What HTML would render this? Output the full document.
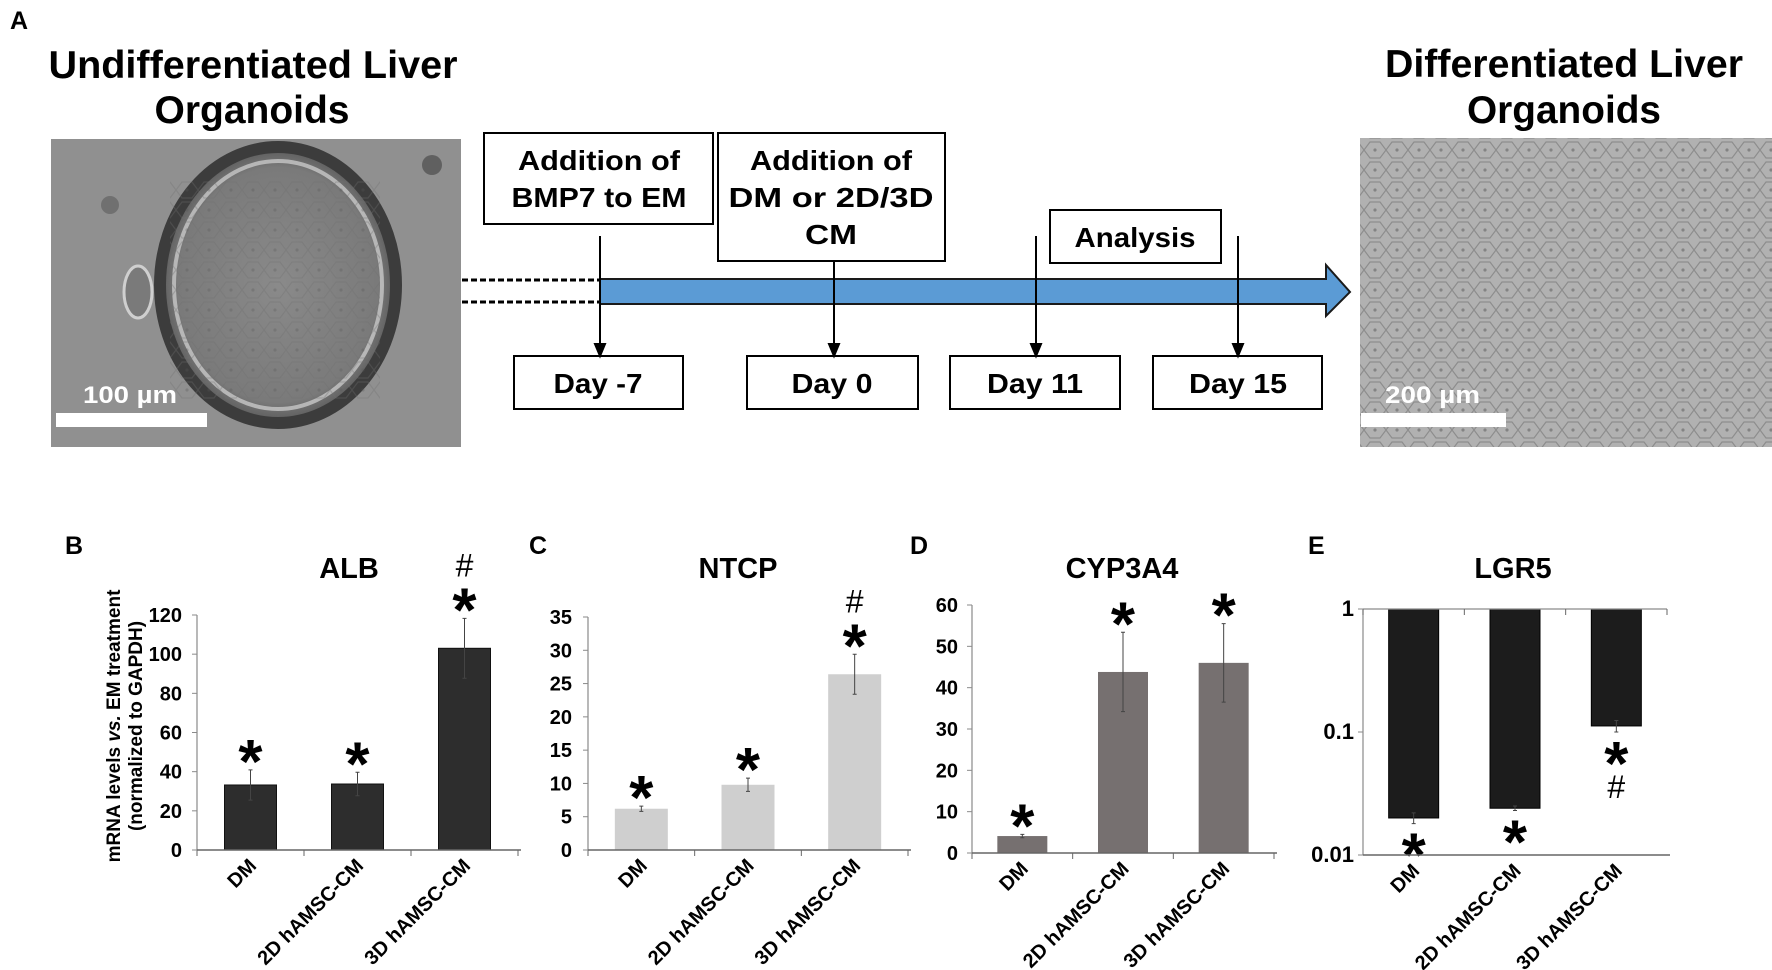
<!DOCTYPE html>
<html><head><meta charset="utf-8"><style>
html,body{margin:0;padding:0;background:#fff;}
svg{display:block;font-family:"Liberation Sans",Arial,sans-serif;}
</style></head><body>
<svg id="fig" width="1772" height="970" viewBox="0 0 1772 970" xmlns="http://www.w3.org/2000/svg">
<defs>
<pattern id="cells" width="22" height="20" patternUnits="userSpaceOnUse">
<path d="M0 10 L6 2 L16 2 L22 10 L16 18 L6 18 Z" fill="none" stroke="#6f6f6f" stroke-width="1.2" opacity="0.55"/>
<circle cx="11" cy="10" r="1.6" fill="#555" opacity="0.5"/>
</pattern>
<radialGradient id="org" cx="0.5" cy="0.5" r="0.5"><stop offset="0" stop-color="#8a8a8a"/><stop offset="0.85" stop-color="#7a7a7a"/><stop offset="1" stop-color="#5a5a5a"/></radialGradient>
</defs>
<g>
<text x="10" y="29" font-size="25" font-weight="bold">A</text>
<text x="253" y="78" font-size="39" font-weight="bold" text-anchor="middle" textLength="409" lengthAdjust="spacingAndGlyphs">Undifferentiated Liver</text>
<text x="252" y="123" font-size="39" font-weight="bold" text-anchor="middle" textLength="195" lengthAdjust="spacingAndGlyphs">Organoids</text>
<g>
<rect x="51" y="139" width="410" height="308" fill="#909090"/>
<circle cx="110" cy="205" r="9" fill="#707070"/><circle cx="432" cy="165" r="10" fill="#606060"/>
<ellipse cx="138" cy="292" rx="14" ry="26" fill="#7a7a7a" stroke="#cfcfcf" stroke-width="3"/>
<ellipse cx="278" cy="285" rx="118" ry="138" fill="url(#org)" stroke="#3c3c3c" stroke-width="12"/>
<ellipse cx="278" cy="285" rx="104" ry="124" fill="none" stroke="#c8c8c8" stroke-width="4" opacity="0.8"/>
<rect x="170" y="180" width="210" height="220" fill="url(#cells)" opacity="0.6"/>
<rect x="56" y="413" width="151" height="14" fill="#fff"/>
<text x="83" y="403" font-size="24" font-weight="bold" fill="#fff" textLength="94" lengthAdjust="spacingAndGlyphs">100 µm</text>
</g>
<g>
<rect x="1360" y="138" width="412" height="309" fill="#b1b1b1"/>
<rect x="1360" y="138" width="412" height="309" fill="url(#cells)"/>
<rect x="1361" y="413" width="145" height="14" fill="#fff"/>
<text x="1385" y="403" font-size="24" font-weight="bold" fill="#fff" textLength="95" lengthAdjust="spacingAndGlyphs">200 µm</text>
</g>
<text x="1564" y="77" font-size="39" font-weight="bold" text-anchor="middle" textLength="358" lengthAdjust="spacingAndGlyphs">Differentiated Liver</text>
<text x="1564" y="123" font-size="39" font-weight="bold" text-anchor="middle" textLength="194" lengthAdjust="spacingAndGlyphs">Organoids</text>
<g>
<line x1="462" y1="280" x2="600" y2="280" stroke="#000" stroke-width="3" stroke-dasharray="6,3"/>
<line x1="462" y1="302" x2="600" y2="302" stroke="#000" stroke-width="3" stroke-dasharray="6,3"/>
<path d="M600 279 L1326 279 L1326 265 L1350 292 L1326 316 L1326 304 L600 304 Z" fill="#5b9bd5" stroke="#1a1a1a" stroke-width="2"/>
</g>
<g fill="none" stroke="#000" stroke-width="2">
<rect x="484" y="133" width="229" height="91"/>
<rect x="718" y="133" width="227" height="128"/>
<rect x="1050" y="210" width="171" height="53"/>
<rect x="514" y="356" width="169" height="53"/>
<rect x="747" y="356" width="171" height="53"/>
<rect x="950" y="356" width="170" height="53"/>
<rect x="1153" y="356" width="169" height="53"/>
</g>
<g stroke="#000" stroke-width="2">
<line x1="600" y1="236" x2="600" y2="346"/><path d="M595 344 L605 344 L600 356 Z" fill="#000"/>
<line x1="834" y1="261" x2="834" y2="346"/><path d="M829 344 L839 344 L834 356 Z" fill="#000"/>
<line x1="1036" y1="236" x2="1036" y2="346"/><path d="M1031 344 L1041 344 L1036 356 Z" fill="#000"/>
<line x1="1238" y1="236" x2="1238" y2="346"/><path d="M1233 344 L1243 344 L1238 356 Z" fill="#000"/>
</g>
<g font-size="28" font-weight="bold" text-anchor="middle">
<text x="599" y="170" textLength="162" lengthAdjust="spacingAndGlyphs">Addition of</text>
<text x="599" y="207" textLength="175" lengthAdjust="spacingAndGlyphs">BMP7 to EM</text>
<text x="831" y="170" textLength="162" lengthAdjust="spacingAndGlyphs">Addition of</text>
<text x="831" y="207" textLength="205" lengthAdjust="spacingAndGlyphs">DM or 2D/3D</text>
<text x="831" y="244" textLength="52" lengthAdjust="spacingAndGlyphs">CM</text>
<text x="1135" y="247" textLength="121" lengthAdjust="spacingAndGlyphs">Analysis</text>
<text x="598" y="393" textLength="89" lengthAdjust="spacingAndGlyphs">Day -7</text>
<text x="832" y="393" textLength="81" lengthAdjust="spacingAndGlyphs">Day 0</text>
<text x="1035" y="393" textLength="96" lengthAdjust="spacingAndGlyphs">Day 11</text>
<text x="1238" y="393" textLength="98" lengthAdjust="spacingAndGlyphs">Day 15</text>
</g>
</g>
<g id="charts">
<text font-size="19" font-weight="bold" text-anchor="middle" transform="rotate(-90 120 726)"><tspan x="120" y="726">mRNA levels <tspan font-style="italic">vs.</tspan> EM treatment</tspan></text>
<text font-size="19" font-weight="bold" text-anchor="middle" transform="rotate(-90 142 726)"><tspan x="142" y="726">(normalized to GAPDH)</tspan></text>
</g>
</svg>
<script>
const categories = ["DM", "2D hAMSC-CM", "3D hAMSC-CM"];
const albValues = [33.2, 33.7, 103];
const albErrors = [7.7, 6, 15.3];
const albTicks = [0, 20, 40, 60, 80, 100, 120];
const ntcpValues = [6.2, 9.8, 26.4];
const ntcpErrors = [0.4, 1, 3];
const ntcpTicks = [0, 5, 10, 15, 20, 25, 30, 35];
const cypValues = [4.1, 43.8, 46];
const cypErrors = [0.4, 9.6, 9.5];
const cypTicks = [0, 10, 20, 30, 40, 50, 60];
const lgrValues = [0.020, 0.024, 0.112];
const lgrErrors = [0.002, 0.001, 0.012];
const lgrTicks = [1, 0.1, 0.01];
const albMarks = ["*", "*", "*#"];
const ntcpMarks = ["*", "*", "*#"];
const cypMarks = ["*", "*", "*"];
const lgrMarks = ["*", "*", "*#"];

const NS = "http://www.w3.org/2000/svg";
const root = document.getElementById("charts");
function mk(tag, attrs, parent, txt) {
  const e = document.createElementNS(NS, tag);
  for (const k in attrs) e.setAttribute(k, attrs[k]);
  if (txt !== undefined) e.textContent = txt;
  (parent || root).appendChild(e);
  return e;
}
function chart(cfg) {
  const g = mk("g", {});
  
  
  const log = cfg.log;
  const y = v => log ? cfg.yTop + (Math.log10(cfg.max) - Math.log10(v)) / (Math.log10(cfg.max) - Math.log10(cfg.min)) * (cfg.y0 - cfg.yTop)
                     : cfg.y0 - (v - cfg.min) / (cfg.max - cfg.min) * (cfg.y0 - cfg.yTop);
  const cw = (cfg.xEnd - cfg.x0) / categories.length;
  const cx = i => cfg.x0 + cw * (i + 0.5);
  const lbl = mk("text", {x: cfg.labelX, y: 554, "font-size": 25, "font-weight": "bold"}, g, cfg.letter);
  
  
  const t = mk("text", {x: cfg.titleX, y: 578, "font-size": 29, "font-weight": "bold", "text-anchor": "middle"}, g, cfg.title);
  
  
  cfg.values.forEach((v, i) => {
    const base = log ? y(cfg.max) : y(0);
    const top = y(v);
    const b = mk("rect", {x: cx(i) - cfg.bw / 2, y: Math.min(base, top), width: cfg.bw, height: Math.abs(base - top), fill: cfg.color, stroke: cfg.stroke || "none", "stroke-width": 1}, g);
    
    
    const e = cfg.errors[i];
    const ya = y(v + e), yb = y(Math.max(v - e, log ? 1e-6 : 0));
    const eb = mk("path", {d: `M${cx(i)} ${ya} V${yb} M${cx(i)-2} ${ya} H${cx(i)+2} M${cx(i)-2} ${yb} H${cx(i)+2}`, stroke: "#444", "stroke-width": 1, fill: "none"}, g);
    
    
    const m = cfg.marks[i];
    let starC, hashY;
    if (log) {
      starC = y(v - e) + 18;
      hashY = starC + 48;
    } else {
      starC = y(v + e) - 22;
      hashY = starC - 20;
    }
    const s = mk("text", {x: cx(i), y: starC + 35, "font-size": 62, "font-weight": "bold", "text-anchor": "middle"}, g, "*");
    
    
    if (m.includes("#")) {
      const h = mk("text", {x: cx(i), y: hashY, "font-size": 32, "text-anchor": "middle"}, g, "#");
      
      
    }
    const xl = mk("text", {x: cx(i) + 7, y: cfg.y0 + 17, "font-size": 20, "font-weight": "bold", "text-anchor": "end", transform: `rotate(-45 ${cx(i)+7} ${cfg.y0+17})`}, g, categories[i]);
    
    
  });
  const ya = mk("line", {x1: cfg.x0, y1: y(cfg.max), x2: cfg.x0, y2: cfg.y0, stroke: "#8a8a8a", "stroke-width": 1.2}, g);
  
  
  const xa = mk("line", {x1: cfg.x0, y1: cfg.y0, x2: cfg.xEnd + 3, y2: cfg.y0, stroke: "#666", "stroke-width": 1.5}, g);
  
  
  const tickY = log ? y(cfg.max) : cfg.y0;
  if (log) {
    const tl = mk("line", {x1: cfg.x0, y1: tickY, x2: cfg.xEnd, y2: tickY, stroke: "#8a8a8a", "stroke-width": 1.2}, g);
    
    
  }
  for (let i = 0; i <= categories.length; i++) {
    const tx = cfg.x0 + cw * i;
    const tk = mk("line", {x1: tx, y1: tickY, x2: tx, y2: tickY + 6, stroke: "#666", "stroke-width": 1}, g);
    
    
  }
  cfg.ticks.forEach(v => {
    const yy = y(v);
    const tk = mk("line", {x1: cfg.x0 - 5, y1: yy, x2: cfg.x0, y2: yy, stroke: "#8a8a8a", "stroke-width": 1}, g);
    
    
    const tl = mk("text", {x: cfg.x0 - cfg.gap, y: yy + 7, "font-size": cfg.tfs, "font-weight": "bold", "text-anchor": "end"}, g, String(v));
    
    
  });
}
chart({name: "alb", title: "ALB", letter: "B", labelX: 65, titleX: 349, values: albValues, errors: albErrors, marks: albMarks, ticks: albTicks, min: 0, max: 120, x0: 197, xEnd: 518, y0: 850, yTop: 615, bw: 52, color: "#2d2d2d", stroke: "#111", gap: 15, tfs: 20});
chart({name: "ntcp", title: "NTCP", letter: "C", labelX: 529, titleX: 738, values: ntcpValues, errors: ntcpErrors, marks: ntcpMarks, ticks: ntcpTicks, min: 0, max: 35, x0: 588, xEnd: 908, y0: 850, yTop: 617, bw: 53, color: "#cfcfcf", gap: 16, tfs: 20});
chart({name: "cyp3a4", title: "CYP3A4", letter: "D", labelX: 910, titleX: 1122, values: cypValues, errors: cypErrors, marks: cypMarks, ticks: cypTicks, min: 0, max: 60, x0: 972, xEnd: 1274, y0: 853, yTop: 605, bw: 50, color: "#767070", gap: 14, tfs: 20});
chart({name: "lgr5", title: "LGR5", letter: "E", labelX: 1308, titleX: 1513, values: lgrValues, errors: lgrErrors, marks: lgrMarks, ticks: lgrTicks, min: 0.01, max: 1, log: true, x0: 1363, xEnd: 1667, y0: 855, yTop: 609, bw: 50, color: "#1c1c1c", stroke: "#000", gap: 9, tfs: 22});
</script>
</body></html>
